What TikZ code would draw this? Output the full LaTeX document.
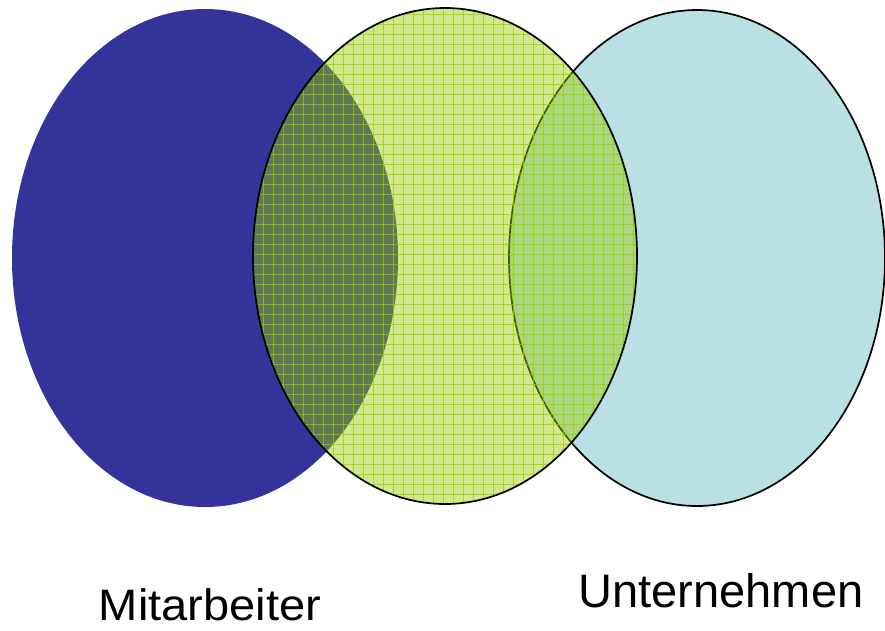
\documentclass[tikz,border=0pt]{standalone}
\usepackage{fontspec}
\setmainfont{Liberation Sans}
\definecolor{dblue}{RGB}{51,51,153}
\definecolor{lcyan}{RGB}{185,224,227}
\definecolor{ygreen}{RGB}{153,204,0}
\tikzset{
  outl/.style={draw=black, line width=1.7pt},
  gridln/.style={draw=ygreen, line width=0.9pt, opacity=0.7},
  lbl/.style={anchor=base, inner sep=0pt, text depth=0pt, font=\fontsize{47}{52}\selectfont},
}
\begin{document}
\begin{tikzpicture}[x=1pt,y=-1pt]
\useasboundingbox (0,0) rectangle (885,630);
\coordinate (cl) at (205,258);
\coordinate (cm) at (445,256);
\coordinate (cr) at (697,258);
% left ellipse
\fill[dblue] (cl) ellipse [x radius=193, y radius=249];
% right ellipse
\fill[lcyan] (cr) ellipse [x radius=188, y radius=248];
\draw[outl] (cr) ellipse [x radius=188, y radius=248];
% middle ellipse (translucent, grid pattern)
\fill[ygreen, opacity=0.45] (cm) ellipse [x radius=192, y radius=248];
\begin{scope}
  \clip (cm) ellipse [x radius=192, y radius=248];
  \foreach \i in {0,...,40} {
    \draw[gridln] (253+\i*10,0) -- (253+\i*10,520);
  }
  \foreach \j in {0,...,52} {
    \draw[gridln] (240,4+\j*10) -- (650,4+\j*10);
  }
\end{scope}
\draw[outl] (cm) ellipse [x radius=192, y radius=248];
% labels
\node[lbl, font=\fontsize{44}{48}\selectfont, xscale=1.07] (mit) at (210,620.5) {Mitarbeiter};
\node[lbl] (unt) at (721,607.5) {Unternehmen};
\end{tikzpicture}
\end{document}
